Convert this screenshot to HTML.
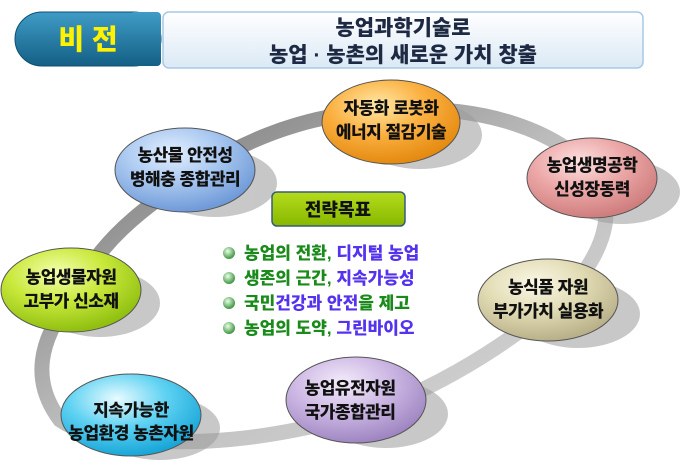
<!DOCTYPE html>
<html><head><meta charset="utf-8"><style>
body{margin:0;background:#fff;width:700px;height:461px;overflow:hidden;font-family:"Liberation Sans","Noto Sans CJK KR",sans-serif}
</style></head><body>
<svg width="700" height="461" viewBox="0 0 700 461" xmlns="http://www.w3.org/2000/svg" style="font-family:'Liberation Sans','Noto Sans CJK KR',sans-serif">
<defs>
<linearGradient id="hdr" x1="0" y1="0" x2="0" y2="1"><stop offset="0" stop-color="#ffffff"/><stop offset="1" stop-color="#dbe9f5"/></linearGradient>
<linearGradient id="pill" x1="0" y1="0" x2="0" y2="1"><stop offset="0" stop-color="#3f9cc6"/><stop offset="1" stop-color="#145f85"/></linearGradient>
<linearGradient id="ring" x1="0" y1="0" x2="1" y2="1"><stop offset="0" stop-color="#6e6e6e"/><stop offset="0.5" stop-color="#bdbdbd"/><stop offset="1" stop-color="#d8d8d8"/></linearGradient>
<linearGradient id="gbox" x1="0" y1="0" x2="0" y2="1"><stop offset="0" stop-color="#b5dc1c"/><stop offset="1" stop-color="#86b800"/></linearGradient>
<radialGradient id="o" cx="0.4" cy="0.3" r="0.7"><stop offset="0" stop-color="#ffe9a8"/><stop offset="0.5" stop-color="#fbb040"/><stop offset="1" stop-color="#e48a10"/></radialGradient>
<radialGradient id="b" cx="0.4" cy="0.3" r="0.7"><stop offset="0" stop-color="#e3efff"/><stop offset="0.5" stop-color="#a9c8f0"/><stop offset="1" stop-color="#6f9ad8"/></radialGradient>
<radialGradient id="p" cx="0.4" cy="0.3" r="0.7"><stop offset="0" stop-color="#fde0e0"/><stop offset="0.5" stop-color="#eca8a8"/><stop offset="1" stop-color="#cf7d7d"/></radialGradient>
<radialGradient id="g" cx="0.4" cy="0.3" r="0.7"><stop offset="0" stop-color="#f5ffb0"/><stop offset="0.5" stop-color="#c8e83a"/><stop offset="1" stop-color="#8fbf10"/></radialGradient>
<radialGradient id="be" cx="0.4" cy="0.3" r="0.7"><stop offset="0" stop-color="#fbf8e6"/><stop offset="0.5" stop-color="#e2dcb5"/><stop offset="1" stop-color="#b8b088"/></radialGradient>
<radialGradient id="pu" cx="0.4" cy="0.3" r="0.7"><stop offset="0" stop-color="#f4ecfb"/><stop offset="0.5" stop-color="#cdb8e4"/><stop offset="1" stop-color="#9f86c2"/></radialGradient>
<radialGradient id="c" cx="0.4" cy="0.3" r="0.7"><stop offset="0" stop-color="#e8fbff"/><stop offset="0.5" stop-color="#5fd2f2"/><stop offset="1" stop-color="#18a6d8"/></radialGradient>
<radialGradient id="dot" cx="0.4" cy="0.35" r="0.6"><stop offset="0" stop-color="#e8ffe8"/><stop offset="1" stop-color="#4a9a4a"/></radialGradient>
</defs>

<rect x="163" y="12" width="480" height="56" rx="6" fill="url(#hdr)" stroke="#a8c8e6" stroke-width="1.5"/>
<rect x="15" y="12" width="146" height="54" rx="27" fill="url(#pill)" stroke="#0e4f70" stroke-width="1"/>
<rect x="130" y="12" width="31" height="54" rx="4" fill="url(#pill)"/>
<text x="88" y="49" font-size="28" font-weight="900" fill="#fff200" text-anchor="middle">비 전</text>
<text x="403" y="35" font-size="21" font-weight="900" fill="#1e2a44" text-anchor="middle">농업과학기술로</text>
<text x="403" y="62" font-size="21" font-weight="900" fill="#1e2a44" text-anchor="middle">농업 · 농촌의 새로운 가치 창출</text>

<path d="M60,420 C30,380 40,340 70,300 C100,240 140,210 200,170 C260,130 330,110 400,110 C480,105 560,130 595,175 C620,215 600,260 560,300 C500,350 420,400 340,420 C260,440 200,445 130,440 C95,438 75,430 60,420 Z" fill="none" stroke="url(#ring)" stroke-width="15"/>

<g fill="#9a9a9a" opacity="0.55">
<ellipse cx="420" cy="135" rx="62" ry="34"/>
<ellipse cx="215" cy="183" rx="62" ry="34"/>
<ellipse cx="622" cy="192" rx="58" ry="32"/>
<ellipse cx="100" cy="303" rx="60" ry="34"/>
<ellipse cx="578" cy="314" rx="62" ry="34"/>
<ellipse cx="386" cy="414" rx="62" ry="34"/>
<ellipse cx="160" cy="428" rx="60" ry="32"/>
</g>

<g stroke="#555" stroke-width="1">
<ellipse cx="391" cy="122" rx="69" ry="42" fill="url(#o)"/>
<ellipse cx="185" cy="170" rx="70" ry="42" fill="url(#b)"/>
<ellipse cx="592" cy="178" rx="65" ry="40" fill="url(#p)"/>
<ellipse cx="71" cy="290" rx="70" ry="42" fill="url(#g)"/>
<ellipse cx="548" cy="300" rx="70" ry="41" fill="url(#be)"/>
<ellipse cx="356" cy="400" rx="70" ry="43" fill="url(#pu)"/>
<ellipse cx="131" cy="415" rx="70" ry="41" fill="url(#c)"/>
</g>
<g font-size="17" font-weight="900" fill="#111" text-anchor="middle" letter-spacing="-0.5">
<text x="391" y="114">자동화 로봇화</text><text x="391" y="138">에너지 절감기술</text>
<text x="185" y="161">농산물 안전성</text><text x="185" y="185">병해충 종합관리</text>
<text x="592" y="171">농업생명공학</text><text x="592" y="195">신성장동력</text>
<text x="71" y="283">농업생물자원</text><text x="71" y="307">고부가 신소재</text>
<text x="548" y="293">농식품 자원</text><text x="548" y="317">부가가치 실용화</text>
<text x="350" y="394">농업유전자원</text><text x="350" y="418">국가종합관리</text>
<text x="131" y="416">지속가능한</text><text x="131" y="439">농업환경 농촌자원</text>
</g>

<rect x="272" y="192" width="133" height="34" rx="5" fill="url(#gbox)" stroke="#3a5a7a" stroke-width="1.5"/>
<text x="338" y="216" font-size="18" font-weight="900" fill="#111" text-anchor="middle">전략목표</text>
<g><circle cx="229" cy="253" r="6" fill="url(#dot)"/><circle cx="229" cy="278" r="6" fill="url(#dot)"/><circle cx="229" cy="303" r="6" fill="url(#dot)"/><circle cx="229" cy="328" r="6" fill="url(#dot)"/></g>
<g font-size="17" font-weight="900">
<text x="244" y="259"><tspan fill="#1a8a1a">농업의 전환, </tspan><tspan fill="#5533ee">디지털 농업</tspan></text>
<text x="244" y="284"><tspan fill="#1a8a1a">생존의 근간, </tspan><tspan fill="#5533ee">지속가능성</tspan></text>
<text x="244" y="309"><tspan fill="#1a8a1a">국민</tspan><tspan fill="#5533ee">건강과 안전</tspan><tspan fill="#1a8a1a">을 제고</tspan></text>
<text x="244" y="334"><tspan fill="#1a8a1a">농업의 도약, </tspan><tspan fill="#5533ee">그린바이오</tspan></text>
</g>
</svg>
</body></html>
